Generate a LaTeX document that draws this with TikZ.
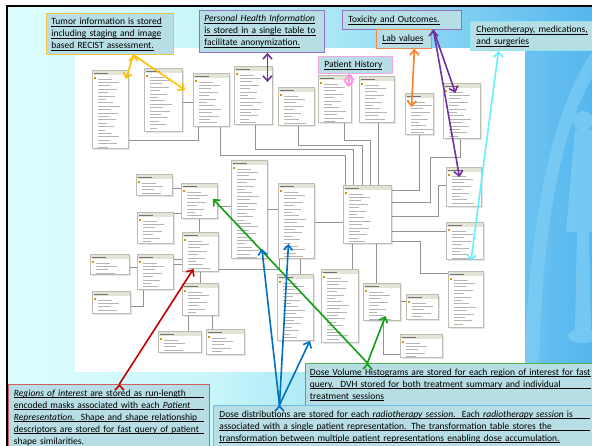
\documentclass[tikz,border=0pt]{standalone}
\usepackage{fontspec}
\setmainfont{Carlito}
\usetikzlibrary{arrows.meta,shadows}

\definecolor{bgA}{HTML}{DCFDFD}
\definecolor{bgB}{HTML}{C9F6FA}
\definecolor{bgC}{HTML}{A4E4F6}
\definecolor{bgD}{HTML}{7CCDF2}
\definecolor{bgE}{HTML}{56B6EE}
\definecolor{decoblue}{HTML}{86D3F7}
\definecolor{boxfill}{HTML}{B7DEE4}
\definecolor{tblline}{HTML}{BDBDB3}
\definecolor{tblhead}{HTML}{E4E4D6}
\definecolor{tbltext}{HTML}{B4B4B4}
\definecolor{linkgray}{HTML}{939393}
\definecolor{tumorline}{HTML}{F2C24A}
\definecolor{philine}{HTML}{9470C0}
\definecolor{labline}{HTML}{F08A50}
\definecolor{chemoline}{HTML}{8CE6F0}
\definecolor{histline}{HTML}{F4A6E6}
\definecolor{roiline}{HTML}{D06060}
\definecolor{dvhline}{HTML}{50B050}
\definecolor{doseline}{HTML}{6FC0E8}
\definecolor{goldarrow}{HTML}{FFC000}
\definecolor{purplearrow}{HTML}{7030A0}
\definecolor{orangearrow}{HTML}{FF7F27}
\definecolor{pinkarrow}{HTML}{FF8CE6}
\definecolor{cyanarrow}{HTML}{66F0FF}
\definecolor{greenarrow}{HTML}{10A010}
\definecolor{bluearrow}{HTML}{0070C0}
\definecolor{redarrow}{HTML}{C00000}

\pgfdeclarehorizontalshading{backdrop}{100bp}{color(0bp)=(bgA); color(25.7bp)=(bgA);
  color(41.9bp)=(bgB); color(54.6bp)=(bgC); color(64.7bp)=(bgD); color(75bp)=(bgE); color(100bp)=(bgE)}

% underlined text: a natural line and a line stretched to the full width
\newcommand{\ulbox}[1]{\leavevmode\setbox0\hbox{#1}\rlap{\rule[-1.8pt]{\wd0}{0.5pt}}\box0}
\newcommand{\jline}[1]{\leavevmode\rlap{\rule[-1.8pt]{\hsize}{0.5pt}}\hbox to\hsize{#1}}

\begin{document}
\begin{tikzpicture}[x=1pt,y=-1pt,>={Straight Barb[length=5pt,width=9pt]},
    tbl/.style={draw=tblline, line width=0.9pt, fill=white, anchor=north west, inner sep=0pt,
      drop shadow={shadow xshift=1.2pt, shadow yshift=-1.2pt, fill=black!20},
      path picture={
        \fill[tblhead] (path picture bounding box.north west) rectangle ([yshift=-5pt]path picture bounding box.north east);
        \draw[black!55, line width=0.8pt] ([shift={(2pt,-2.5pt)}]path picture bounding box.north west) -- ++(14pt,0);
        \fill[goldarrow!80!black] ([shift={(2pt,-7pt)}]path picture bounding box.north west) rectangle ++(1.6pt,-1.6pt);
        \foreach \k in {1,...,30} {
          \pgfmathsetmacro\len{7+mod(\k*7,16)}
          \draw[tbltext, line width=0.6pt] ([shift={(6pt,-5pt-\k*3.4pt)}]path picture bounding box.north west) -- ++(\len pt,0);
        }
      }},
    link/.style={draw=linkgray, line width=0.9pt},
    callout/.style={fill=boxfill, line width=0.9pt, anchor=north west, align=left,
      inner xsep=5pt, inner ysep=4pt, font=\fontsize{9.5}{12}\selectfont},
    pointer/.style={->, line width=1.6pt}]
  \useasboundingbox (0,0) rectangle (592,446);

  % backdrop of the slide
  \fill[white] (0,0) rectangle (592,446);
  \shade[shading=backdrop] (7,6) rectangle (592,446);
  \fill[decoblue, opacity=0.55] (524,372) .. controls (528,250) and (545,120) .. (592,52)
    -- (592,78) .. controls (556,140) and (541,250) .. (539,372) -- cycle;
  \fill[decoblue, opacity=0.6] (583,121) circle (10);
  \fill[decoblue, opacity=0.6] (575,130) -- (592,130) -- (592,232) -- (566,232) -- cycle;
  \fill[decoblue, opacity=0.6] (577,232) -- (589,232) -- (591,330) -- (575,330) -- cycle;
  \fill[decoblue, opacity=0.6] (583,336) ellipse (15 and 7);
  \draw[line width=2pt] (7,446) -- (7,6) -- (592,6);
  \fill[white] (75,48) rectangle (525,372);

  % tables of the schema
  \node[tbl, minimum width=36pt, minimum height=78pt] (imagefeat) at (92,70) {};
  \node[tbl, minimum width=38pt, minimum height=63pt] (recist) at (144,68) {};
  \node[tbl, minimum width=36pt, minimum height=53pt] (tumors) at (193,73) {};
  \node[tbl, minimum width=38pt, minimum height=58pt] (phi) at (234,66) {};
  \node[tbl, minimum width=36pt, minimum height=38pt] (medhist) at (278,87) {};
  \node[tbl, minimum width=33pt, minimum height=47pt] (social) at (318,75) {};
  \node[tbl, minimum width=35pt, minimum height=46pt] (family) at (359,76) {};
  \node[tbl, minimum width=28pt, minimum height=41pt] (labs) at (405,93) {};
  \node[tbl, minimum width=37pt, minimum height=55pt] (toxicity) at (443,83) {};
  \node[tbl, minimum width=35pt, minimum height=39pt] (chemo) at (446,167) {};
  \node[tbl, minimum width=48pt, minimum height=58pt] (patients) at (343,185) {};
  \node[tbl, minimum width=37pt, minimum height=37pt] (surgical) at (446,222) {};
  \node[tbl, minimum width=35pt, minimum height=56pt] (drugs) at (448,271) {};
  \node[tbl, minimum width=37pt, minimum height=37pt] (organsum) at (363,283) {};
  \node[tbl, minimum width=32pt, minimum height=25pt] (organdata) at (406,294) {};
  \node[tbl, minimum width=42pt, minimum height=23pt] (organfeat) at (400,334) {};
  \node[tbl, minimum width=37pt, minimum height=73pt] (radsum) at (321,269) {};
  \node[tbl, minimum width=36pt, minimum height=66pt] (treatsum) at (277,274) {};
  \node[tbl, minimum width=36pt, minimum height=75pt] (patrep) at (278,183) {};
  \node[tbl, minimum width=36pt, minimum height=98pt] (rtsession) at (231,160) {};
  \node[tbl, minimum width=36pt, minimum height=35pt] (roislice) at (181,183) {};
  \node[tbl, minimum width=36pt, minimum height=21pt] (dvhfeat) at (136,174) {};
  \node[tbl, minimum width=36pt, minimum height=31pt] (dvhdata) at (137,212) {};
  \node[tbl, minimum width=36pt, minimum height=39pt] (roi) at (182,232) {};
  \node[tbl, minimum width=39pt, minimum height=20pt] (shaperelfeat) at (90,254) {};
  \node[tbl, minimum width=36pt, minimum height=35pt] (shaperel) at (137,254) {};
  \node[tbl, minimum width=38pt, minimum height=22pt] (shapereldata) at (92,291) {};
  \node[tbl, minimum width=36pt, minimum height=32pt] (shapedesc) at (182,283) {};
  \node[tbl, minimum width=43pt, minimum height=21pt] (shapedescfeat) at (158,331) {};
  \node[tbl, minimum width=38pt, minimum height=25pt] (shapedescdata) at (206,329) {};

  % relations
  \draw[link] ([yshift=8pt]imagefeat.south east) -| ([xshift=-13pt]tumors.south);
  \draw[link] ([yshift=-3pt]recist.east) -- ([yshift=-3pt]recist.east -| tumors.west);
  \draw[link] ([xshift=9pt]tumors.south) -- ++(0,29) -| ([xshift=-22pt]patients.north);
  \draw[link] ([xshift=2pt]phi.south) -- ++(0,25) -| ([xshift=-14pt]patients.north);
  \draw[link] ([xshift=2pt]medhist.south) -- ++(0,20) -| ([xshift=-5pt]patients.north);
  \draw[link] ([xshift=9.5pt]social.south) -- ++(0,18) -| ([xshift=3pt]patients.north);
  \draw[link] ([xshift=1.5pt]family.south) -- ([xshift=1.5pt]family.south |- patients.north);
  \draw[link] (labs.south) |- ([yshift=24pt]patients.east);
  \draw[link] ([xshift=-1.5pt]toxicity.south) -- ++(0,19) -- ++(-30,0) |- ([yshift=12pt]patients.east);
  \draw[link] ([yshift=1.5pt]chemo.west) -- ++(-8,0) |- ([yshift=-2pt]patients.east);
  \draw[link] ([yshift=9.5pt]surgical.west) -- ([yshift=9.5pt]surgical.west -| patients.east);
  \draw[link] ([yshift=2pt]patients.south east) -- ++(29,0) |- ([yshift=26pt]drugs.west);
  \draw[link] ([yshift=-1.5pt]patrep.east) -- ([yshift=-1.5pt]patrep.east -| patients.west);
  \draw[link] ([xshift=-15pt]patients.south) -- ([xshift=-15pt]patients.south |- radsum.north);
  \draw[link] ([xshift=9pt]patients.south) -- ([xshift=9pt]patients.south |- organsum.north);
  \draw[link] (organsum.east) -- (organsum.east -| organdata.west);
  \draw[link] ([xshift=1.5pt]organsum.south) |- ([yshift=-8.5pt]organfeat.west);
  \draw[link] ([yshift=-5.5pt]roislice.east) -- ([yshift=-5.5pt]roislice.east -| rtsession.west);
  \draw[link] (rtsession.east) -- (rtsession.east -| patrep.west);
  \draw[link] ([yshift=-3.5pt]dvhfeat.east) -- ([yshift=-3.5pt]dvhfeat.east -| roislice.west);
  \draw[link] ([yshift=-1pt]dvhdata.north east) -- ([yshift=-1pt]dvhdata.north east -| roislice.west);
  \draw[link] (roislice.south) -- (roislice.south |- roi.north);
  \draw[link] ([yshift=-3pt]shaperelfeat.east) -- ([yshift=-3pt]shaperelfeat.east -| shaperel.west);
  \draw[link] ([yshift=12.5pt]shaperel.east) -- ([yshift=12.5pt]shaperel.east -| roi.west);
  \draw[link] ([yshift=7.5pt]shaperel.east) -- ([yshift=7.5pt]shaperel.east -| roi.west);
  \draw[link] ([yshift=-4pt]shapereldata.east) -| ([xshift=-12pt]shaperel.south);
  \draw[link] (roi.south) -- (roi.south |- shapedesc.north);
  \draw[link] ([xshift=-12pt]shapedesc.south) -- ([xshift=-12pt]shapedesc.south |- shapedescfeat.north);
  \draw[link] ([xshift=12pt]shapedesc.south) -- ([xshift=12pt]shapedesc.south |- shapedescdata.north);
  \draw[link] ([yshift=-17.5pt]roi.east) -| ([xshift=-17pt]patrep.south);
  \draw[link] ([xshift=4pt]patrep.south) -- ([xshift=4pt]patrep.south |- treatsum.north);

  % callouts
  \node[callout, draw=tumorline, text width=117pt, minimum height=41pt] (tumorbox) at (46,13)
    {\ulbox{Tumor information is stored}\\ \ulbox{including staging and image}\\ \ulbox{based RECIST assessment.}};
  \node[callout, draw=philine, text width=115pt, minimum height=42pt] (phibox) at (199,10)
    {\ulbox{\textit{Personal Health Information}}\\ \ulbox{is stored in a single table to}\\ \ulbox{facilitate anonymization.}};
  \node[callout, draw=philine, inner xsep=6pt, text width=107pt, minimum height=19pt] (toxbox) at (342,10)
    {\ulbox{Toxicity and Outcomes.}};
  \node[callout, draw=labline, inner xsep=6pt, text width=43pt, minimum height=19pt] (labbox) at (376,29)
    {\ulbox{Lab values}};
  \node[callout, draw=chemoline, inner xsep=6pt, text width=118pt, minimum height=29pt] (chemobox) at (470,21)
    {\ulbox{Chemotherapy,\ medications,}\\ \ulbox{and surgeries}};
  \node[callout, draw=histline, inner xsep=6pt, inner ysep=2pt, text width=62pt, minimum height=17pt] (histbox) at (318,56)
    {\ulbox{Patient History}};
  \node[callout, draw=roiline, inner xsep=5.5pt, inner ysep=5pt, text width=190pt] (roibox) at (8,384)
    {\jline{\textit{Regions of interest} are stored as run-length}\\
     \jline{encoded masks associated with each \textit{Patient}}\\
     \jline{\textit{Representation}.\ \ Shape and shape relationship}\\
     \jline{descriptors are stored for fast query of patient}\\
     shape similarities.\\ \strut};
  \node[callout, draw=dvhline, inner xsep=4.5pt, inner ysep=5pt, text width=281pt, minimum height=42pt] (dvhbox) at (305,363)
    {\jline{Dose Volume Histograms are stored for each region of interest for fast}\\
     \jline{query.\ \ DVH stored for both treatment summary and individual}\\
     \ulbox{treatment sessions}};
  \node[callout, draw=doseline, inner xsep=6pt, inner ysep=5pt, text width=371pt] (dosebox) at (213,405)
    {\jline{Dose distributions are stored for each \textit{radiotherapy session}.\ \ Each \textit{radiotherapy session} is}\\
     \jline{associated with a single patient representation. The transformation table stores the}\\
     \ulbox{transformation between multiple patient representations enabling dose accumulation.}\\ \strut};

  % pointers from the callouts
  \path[pointer, draw=goldarrow] ([xshift=23.5pt]tumorbox.south)
    edge ([xshift=-3pt,yshift=-9pt]imagefeat.north east)
    edge ([xshift=-8pt,yshift=-17pt]tumors.north west);
  \path[pointer, draw=purplearrow] ([xshift=5.5pt]phibox.south) edge ([xshift=14pt,yshift=-16pt]phi.north);
  \path[pointer, draw=purplearrow] ([xshift=31.5pt]toxbox.south)
    edge ([xshift=-6.5pt,yshift=-10pt]toxicity.north)
    edge ([xshift=-4.5pt,yshift=-10pt]chemo.north);
  \path[pointer, draw=orangearrow] ([xshift=10.5pt]labbox.south) edge ([xshift=-8pt,yshift=-14pt]labs.north);
  \path[pointer, draw=pinkarrow] ([xshift=-6pt]histbox.south) edge ([xshift=13.5pt,yshift=-12pt]social.north);
  \path[pointer, draw=cyanarrow] ([xshift=-37pt]chemobox.south) edge ([xshift=6pt,yshift=-1pt]surgical.south);
  \path[pointer, draw=greenarrow] ([xshift=-83pt]dvhbox.north)
    edge ([xshift=-5pt,yshift=20pt]roislice.south east)
    edge ([xshift=3.5pt,yshift=5pt]organsum.south);
  \path[pointer, draw=bluearrow] ([xshift=-125.5pt]dosebox.north)
    edge ([xshift=-6pt,yshift=10pt]rtsession.south east)
    edge ([xshift=-8pt,yshift=15pt]patrep.south)
    edge ([xshift=-4pt]treatsum.south east);
  \path[pointer, draw=redarrow] ([xshift=10.5pt]roibox.north) edge ([xshift=-7pt,yshift=3pt]roi.south);
\end{tikzpicture}
\end{document}
